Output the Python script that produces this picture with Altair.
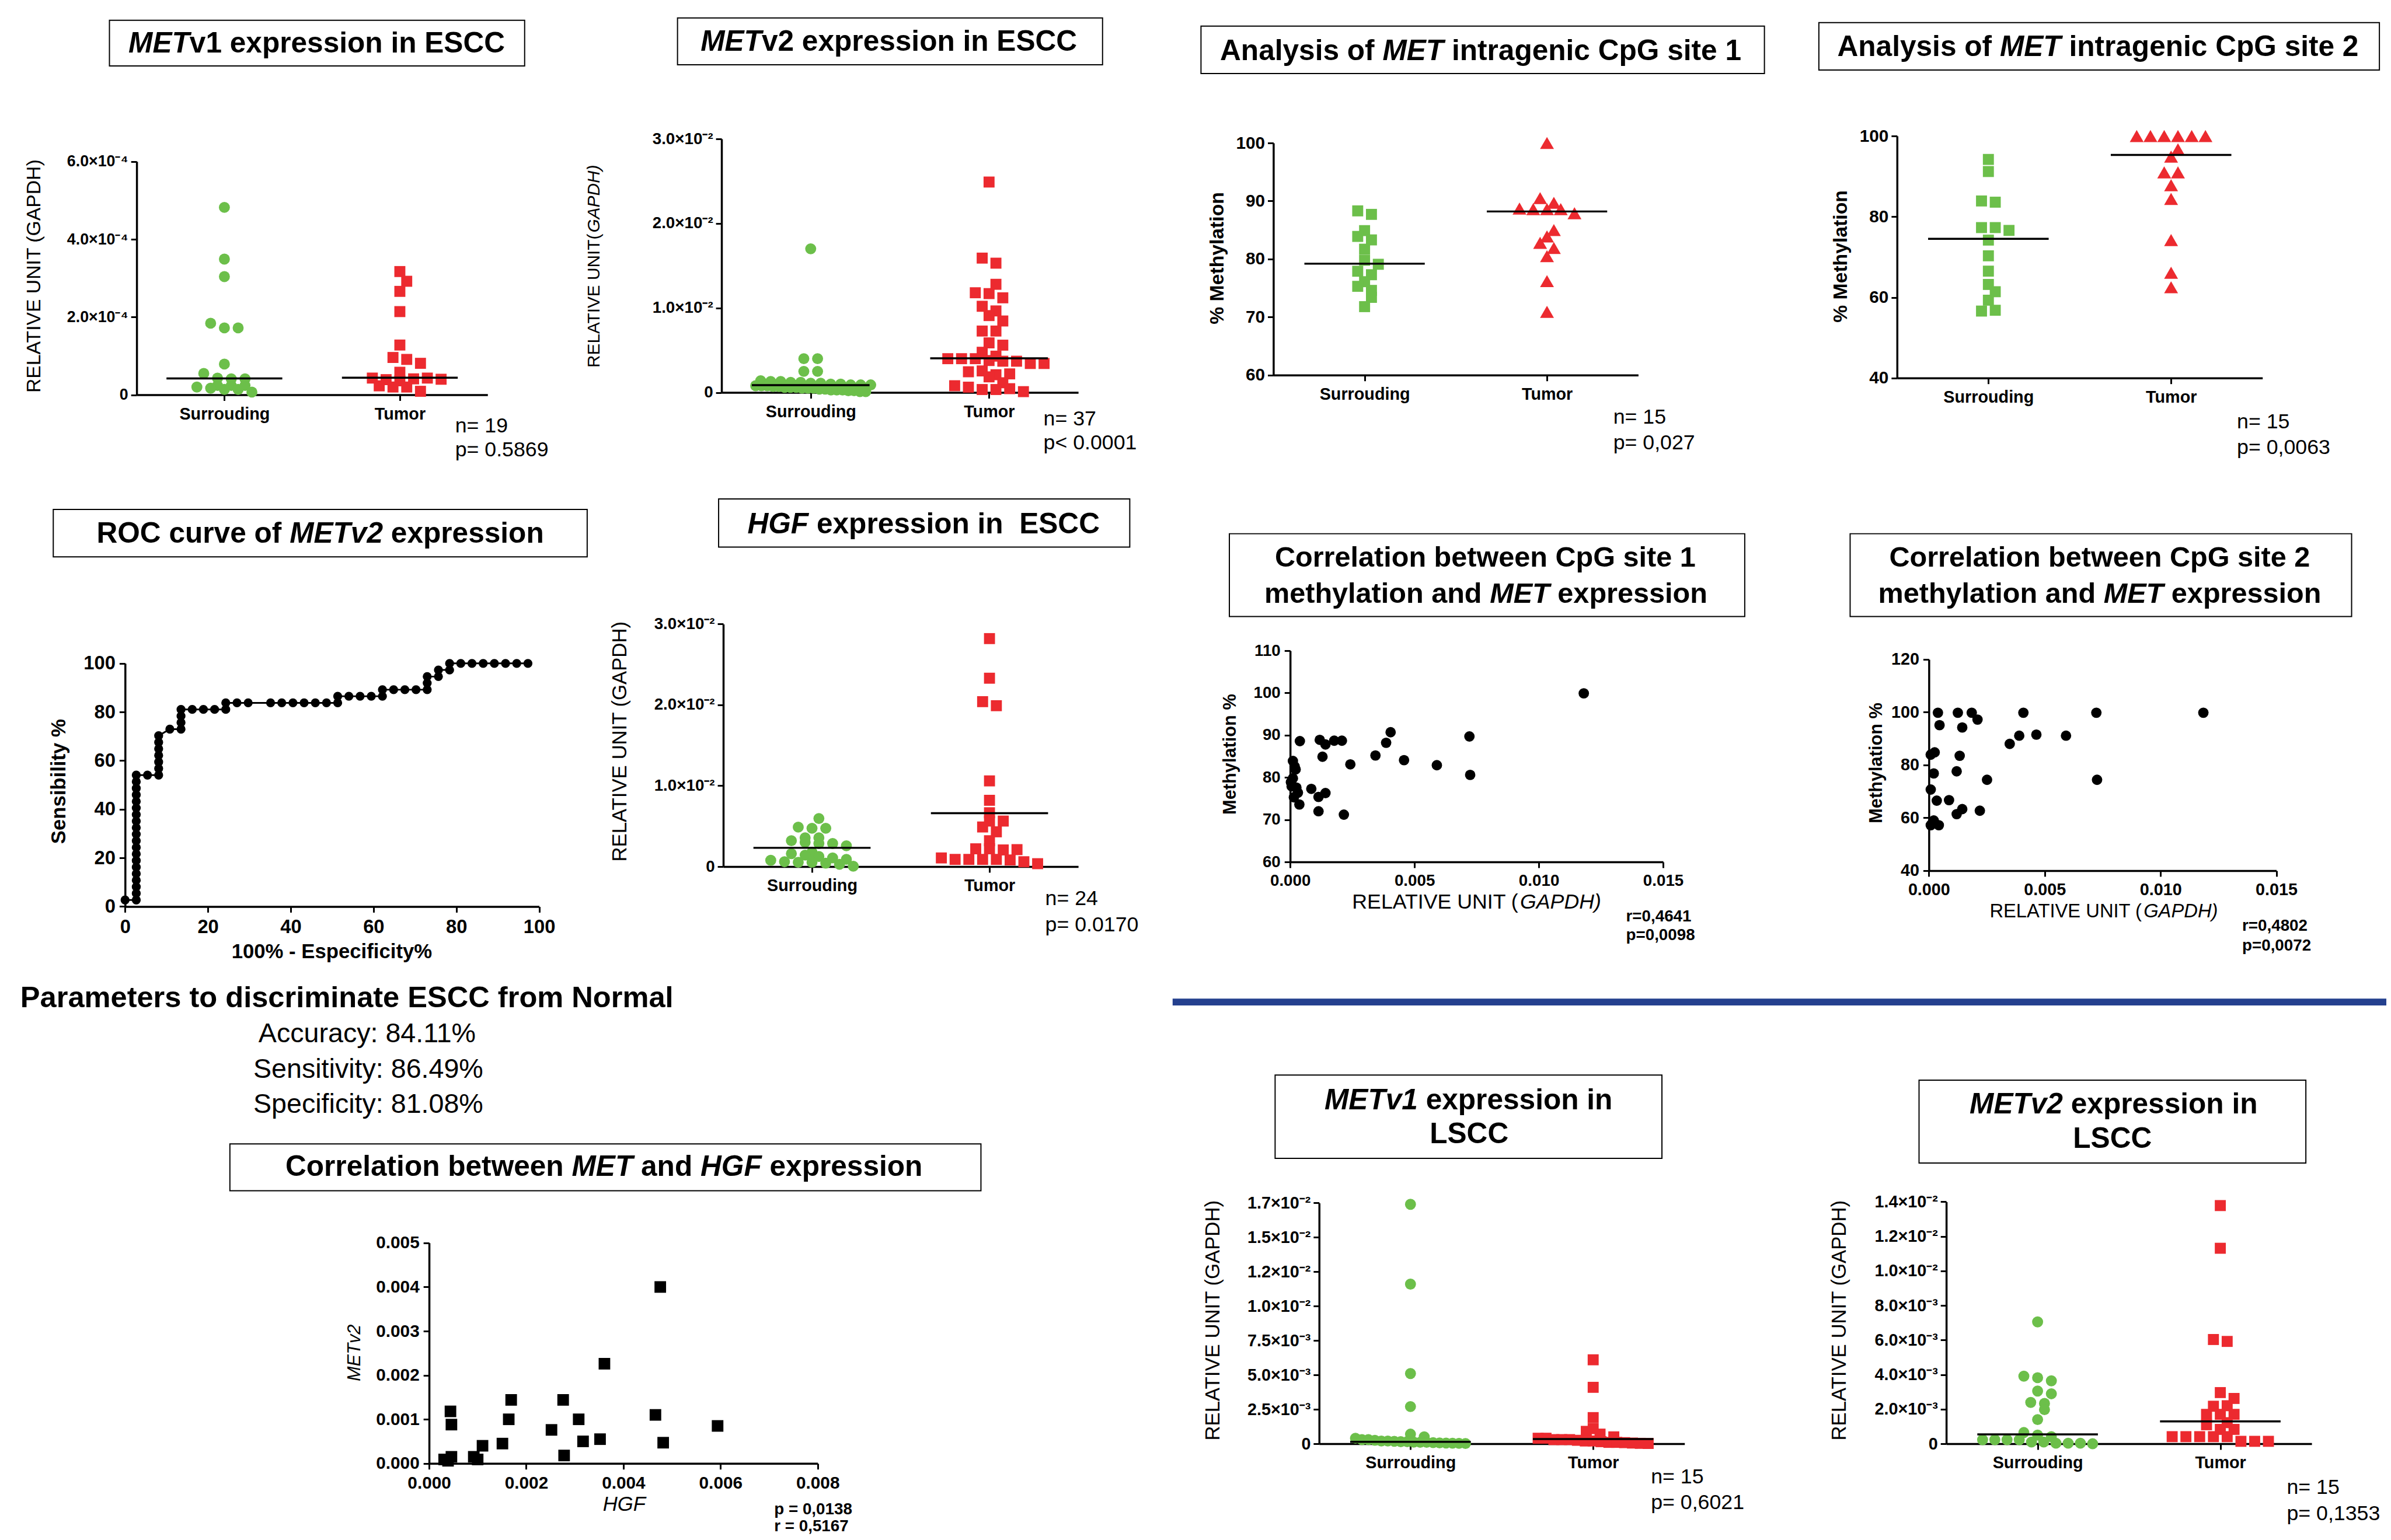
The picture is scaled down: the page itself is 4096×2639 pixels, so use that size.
import altair as alt
import pandas as pd

S = 0.992
W, H = 4080, 2623


def P(v):
    return v * S - 8


def L(v):
    return v * S


FONT = "Liberation Sans, Arial, Helvetica, sans-serif"
GREEN = "#6cbf4a"
RED = "#ec2a2f"
NAVY = "#24408e"

GROUP_LABELS = ["Surrouding", "Tumor"]

# ---------------- METv1 expression in ESCC ----------------
v1_sur = [4.82e-4, 3.49e-4, 3.04e-4, 1.84e-4, 1.72e-4, 1.72e-4, 0.79e-4, 0.55e-4, 0.43e-4, 0.41e-4,
          0.41e-4, 0.24e-4, 0.20e-4, 0.17e-4, 0.24e-4, 0.14e-4, 0.14e-4, 0.24e-4, 0.07e-4]
v1_tum = [3.17e-4, 2.92e-4, 2.66e-4, 2.14e-4, 1.28e-4, 0.96e-4, 0.91e-4, 0.81e-4, 0.58e-4, 0.43e-4,
          0.39e-4, 0.36e-4, 0.41e-4, 0.43e-4, 0.40e-4, 0.23e-4, 0.20e-4, 0.20e-4, 0.09e-4]
v1_lines = [0.42e-4, 0.44e-4]
v1_ticks = [0, 2e-4, 4e-4, 6e-4]
v1_labels = ["0", "2.0×10⁻⁴", "4.0×10⁻⁴", "6.0×10⁻⁴"]

# ---------------- METv2 expression in ESCC ----------------
v2_sur = [1.70e-2, 0.40e-2, 0.40e-2, 0.25e-2, 0.25e-2, 0.14e-2, 0.13e-2, 0.13e-2, 0.12e-2, 0.12e-2,
          0.11e-2, 0.11e-2, 0.10e-2, 0.10e-2, 0.09e-2, 0.09e-2, 0.09e-2, 0.08e-2, 0.08e-2, 0.08e-2,
          0.07e-2, 0.07e-2, 0.06e-2, 0.06e-2, 0.06e-2, 0.05e-2, 0.05e-2, 0.05e-2, 0.04e-2, 0.04e-2,
          0.03e-2, 0.03e-2, 0.03e-2, 0.02e-2, 0.02e-2, 0.01e-2, 0.01e-2]
v2_tum = [2.49e-2, 1.59e-2, 1.53e-2, 1.28e-2, 1.18e-2, 1.17e-2, 1.12e-2, 1.02e-2, 0.965e-2, 0.91e-2,
          0.846e-2, 0.727e-2, 0.727e-2, 0.587e-2, 0.56e-2, 0.476e-2, 0.43e-2, 0.40e-2, 0.40e-2, 0.40e-2,
          0.378e-2, 0.37e-2, 0.37e-2, 0.343e-2, 0.343e-2, 0.245e-2, 0.255e-2, 0.21e-2, 0.22e-2, 0.185e-2,
          0.115e-2, 0.08e-2, 0.063e-2, 0.035e-2, 0.035e-2, 0.045e-2, 0.01e-2]
v2_lines = [0.087e-2, 0.405e-2]
e2_ticks = [0, 0.01, 0.02, 0.03]
e2_labels = ["0", "1.0×10⁻²", "2.0×10⁻²", "3.0×10⁻²"]

# ---------------- CpG site 1 / site 2 methylation ----------------
cpg1_sur = [88.3, 87.7, 84.9, 83.9, 83.3, 81.7, 79.8, 79.1, 77.9, 77.3, 76.1, 75.3, 74.6, 73.4, 71.8]
cpg1_tum = [100, 90.5, 89.7, 88.7, 88.6, 88.6, 88.6, 87.9, 85.0, 83.9, 82.8, 81.9, 80.5, 76.2, 70.9]
cpg1_lines = [79.2, 88.2]
cpg1_ticks = [60, 70, 80, 90, 100]
cpg1_labels = ["60", "70", "80", "90", "100"]

cpg2_sur = [94.2, 91.2, 83.9, 83.6, 77.3, 77.3, 76.6, 74.2, 70.3, 66.5, 63.2, 61.4, 59.3, 56.6, 56.8]
cpg2_tum = [100, 100, 100, 100, 100, 100, 96.7, 94.9, 91.0, 91.0, 87.8, 84.4, 74.2, 66.1, 62.5]
cpg2_lines = [74.5, 95.3]
cpg2_ticks = [40, 60, 80, 100]
cpg2_labels = ["40", "60", "80", "100"]

# ---------------- HGF expression in ESCC ----------------
hgf_sur = [0.595e-2, 0.488e-2, 0.474e-2, 0.474e-2, 0.356e-2, 0.356e-2, 0.32e-2, 0.30e-2, 0.285e-2, 0.285e-2,
           0.257e-2, 0.178e-2, 0.16e-2, 0.142e-2, 0.125e-2, 0.107e-2, 0.089e-2, 0.078e-2, 0.06e-2, 0.053e-2,
           0.053e-2, 0.043e-2, 0.028e-2, 0.005e-2]
hgf_tum = [2.82e-2, 2.33e-2, 2.04e-2, 1.99e-2, 1.06e-2, 0.82e-2, 0.666e-2, 0.563e-2, 0.563e-2, 0.49e-2,
           0.43e-2, 0.32e-2, 0.22e-2, 0.22e-2, 0.206e-2, 0.21e-2, 0.107e-2, 0.089e-2, 0.089e-2, 0.089e-2,
           0.089e-2, 0.082e-2, 0.06e-2, 0.036e-2]
hgf_lines = [0.232e-2, 0.66e-2]

# ---------------- METv1 / METv2 in LSCC ----------------
l1_sur = [0.0174, 0.0116, 0.0051, 0.0027, 0.0007, 0.0005, 0.0004, 0.0003, 0.0003, 0.00025, 0.0002, 0.0002,
          0.00018, 0.00015, 0.00015, 0.00012, 0.0001, 0.0001, 0.00008, 0.00006, 0.00005, 0.00004, 0.00003, 0.00002]
l1_tum = [0.0061, 0.0041, 0.0019, 0.0011, 0.0009, 0.0007, 0.0005, 0.0004, 0.0004, 0.0003, 0.0003, 0.0003,
          0.00025, 0.0002, 0.0002, 0.00015, 0.0001, 0.0001, 0.00008, 0.00005, 0.00003, 0.00002]
l1_lines = [0.00014, 0.00034]
l1_ticks = [0, 0.0025, 0.005, 0.0075, 0.01, 0.0125, 0.015, 0.0175]
l1_labels = ["0", "2.5×10⁻³", "5.0×10⁻³", "7.5×10⁻³", "1.0×10⁻²", "1.2×10⁻²", "1.5×10⁻²", "1.7×10⁻²"]

l2_sur = [0.00705, 0.00391, 0.00382, 0.00364, 0.00305, 0.00289, 0.00239, 0.00233, 0.00197, 0.0014, 0.00065,
          0.0005, 0.00041, 0.00023, 0.00023, 0.00023, 0.00023, 0.0001, 0.0001, 0.00003, 0.00003, 0.00003, 0.0]
l2_tum = [0.01378, 0.01131, 0.00603, 0.00592, 0.00296, 0.00262, 0.00217, 0.0022, 0.0017, 0.0017, 0.0017,
          0.00122, 0.0011, 0.00083, 0.00083, 0.00041, 0.00041, 0.00041, 0.00041, 0.00041, 0.00014, 0.00014, 0.00014]
l2_lines = [0.00054, 0.00129]
l2_ticks = [0, 0.002, 0.004, 0.006, 0.008, 0.010, 0.012, 0.014]
l2_labels = ["0", "2.0×10⁻³", "4.0×10⁻³", "6.0×10⁻³", "8.0×10⁻³", "1.0×10⁻²", "1.2×10⁻²", "1.4×10⁻²"]

# ---------------- ROC curve ----------------
roc_fpr = ([0.00] + [2.70] * 20 + [5.41] + [8.11] * 7 + [10.81] + [13.51] * 4 + [16.22, 18.92, 21.62]
           + [24.32] * 2 + [27.03, 29.73, 35.14, 37.84, 40.54, 43.24, 45.95, 48.65] + [51.35] * 2
           + [54.05, 56.76, 59.46] + [62.16] * 2 + [64.86, 67.57, 70.27] + [72.97] * 3 + [75.68] * 2
           + [78.38] * 2 + [81.08, 83.78, 86.49, 89.19, 91.89, 94.59, 97.30])
roc_sens = [2.70,
            2.70, 5.41, 8.11, 10.81, 13.51, 16.22, 18.92, 21.62, 24.32, 27.03, 29.73, 32.43, 35.14, 37.84,
            40.54, 43.24, 45.95, 48.65, 51.35, 54.05,
            54.05,
            54.05, 56.76, 59.46, 62.16, 64.86, 67.57, 70.27,
            72.97,
            72.97, 75.68, 78.38, 81.08,
            81.08, 81.08, 81.08,
            81.08, 83.78,
            83.78, 83.78, 83.78, 83.78, 83.78, 83.78, 83.78, 83.78,
            83.78, 86.49,
            86.49, 86.49, 86.49,
            86.49, 89.19,
            89.19, 89.19, 89.19,
            89.19, 91.89, 94.59,
            94.59, 97.30,
            97.30, 100,
            100, 100, 100, 100, 100, 100, 100]
roc_ticks = [0, 20, 40, 60, 80, 100]

# ---------------- correlations ----------------
c1_x = [0.01181, 0.00404, 0.00721, 0.00039, 0.00119, 0.00142, 0.00177, 0.00208, 0.00386, 0.00343,
        0.0013, 0.00458, 0.00242, 0.0059, 0.00724, 0.00011, 0.00022, 0.00011, 0.00006, 0.00085,
        0.00031, 0.00142, 0.00114, 0.00015, 0.00037, 0.00114, 0.00216, 0.00003, 0.00018, 0.00025]
c1_y = [99.9, 90.7, 89.7, 88.6, 88.9, 87.8, 88.7, 88.7, 88.2, 85.2, 84.9, 84.1, 83.1, 82.9, 80.6,
        83.9, 81.9, 79.8, 77.9, 77.3, 76.4, 76.3, 75.4, 75.3, 73.6, 72.0, 71.2, 78.9, 82.6, 77.6]
c2_x = [0.00039, 0.00125, 0.00185, 0.00408, 0.00723, 0.01185, 0.0021, 0.00046, 0.00144, 0.0039,
        0.00464, 0.00592, 0.00349, 0.00025, 0.00008, 0.00133, 0.00021, 0.0012, 0.00251, 0.00726,
        0.00008, 0.00034, 0.00087, 0.00144, 0.0012, 0.0022, 0.00021, 0.00008, 0.00043, 0.00013]
c2_y = [99.8, 99.8, 99.8, 99.8, 99.8, 99.8, 97.2, 95.1, 94.2, 91.1, 91.5, 91.1, 88.0, 84.8, 83.9,
        83.5, 76.8, 77.6, 74.4, 74.4, 70.7, 66.5, 66.7, 63.3, 61.4, 62.7, 59.0, 57.2, 57.2, 57.7]
mh_hgf = [0.00476, 0.00361, 0.00169, 0.00276, 0.00044, 0.00046, 0.00164, 0.00308, 0.00466, 0.00594, 0.00252,
          0.00352, 0.00317, 0.00482, 0.00151, 0.00110, 0.00278, 0.00046, 0.00031, 0.00092, 0.00100, 0.00039]
mh_met = [0.00400, 0.00226, 0.00144, 0.00144, 0.00118, 0.00088, 0.00100, 0.00100, 0.00110, 0.00085, 0.00076,
          0.00055, 0.00050, 0.00047, 0.00045, 0.00040, 0.00018, 0.00015, 0.00009, 0.00015, 0.00009, 0.00006]

# ---------------- font metrics (Arial-compatible) for mixed-style text ----------------
BW = {' ': 278, '\u00a0': 278, '%': 889, '(': 333, ')': 333, ',': 278, '-': 333, '.': 278, ':': 333, '=': 584,
      'A': 722, 'B': 722, 'C': 722, 'D': 722, 'E': 667, 'F': 611, 'G': 778, 'H': 722, 'I': 278, 'J': 556,
      'K': 722, 'L': 611, 'M': 833, 'N': 722, 'O': 778, 'P': 667, 'Q': 778, 'R': 722, 'S': 667, 'T': 611,
      'U': 722, 'V': 667, 'W': 944, 'X': 667, 'Y': 667, 'Z': 611,
      'a': 556, 'b': 611, 'c': 556, 'd': 611, 'e': 556, 'f': 333, 'g': 611, 'h': 611, 'i': 278, 'j': 278,
      'k': 556, 'l': 278, 'm': 889, 'n': 611, 'o': 611, 'p': 611, 'q': 611, 'r': 389, 's': 556, 't': 333,
      'u': 611, 'v': 556, 'w': 778, 'x': 556, 'y': 556, 'z': 500}
RW = {' ': 278, '\u00a0': 278, '%': 889, '(': 333, ')': 333, ',': 278, '-': 333, '.': 278, ':': 278, '=': 584,
      'A': 667, 'B': 667, 'C': 722, 'D': 722, 'E': 667, 'F': 611, 'G': 778, 'H': 722, 'I': 278, 'J': 500,
      'K': 667, 'L': 556, 'M': 833, 'N': 722, 'O': 778, 'P': 667, 'Q': 778, 'R': 722, 'S': 667, 'T': 611,
      'U': 722, 'V': 667, 'W': 944, 'X': 667, 'Y': 667, 'Z': 611,
      'a': 556, 'b': 556, 'c': 500, 'd': 556, 'e': 556, 'f': 278, 'g': 556, 'h': 556, 'i': 222, 'j': 222,
      'k': 500, 'l': 222, 'm': 833, 'n': 556, 'o': 556, 'p': 556, 'q': 556, 'r': 333, 's': 500, 't': 278,
      'u': 556, 'v': 500, 'w': 722, 'x': 500, 'y': 500, 'z': 500}


def tw(s, size, bold):
    t = BW if bold else RW
    return sum(t.get(c, 556) for c in s) * size / 1000.0


texts = []


def add_text(x, y, s, size, bold=False, italic=False, angle=0, align="left", baseline="alphabetic"):
    texts.append(dict(x=P(x), y=P(y), text=s, size=L(size), weight="bold" if bold else "normal",
                      style="italic" if italic else "normal", angle=angle, align=align, baseline=baseline))


def add_rich(cx, y, segs, size, bold=True):
    total = sum(tw(s, size, bold) for s, _ in segs)
    x = cx - total / 2.0
    for s, it in segs:
        lead = len(s) - len(s.lstrip(" "))
        core = s.strip(" ")
        add_text(x + tw(" " * lead, size, bold), y, core, size, bold=bold, italic=bool(it), align="left")
        x += tw(s, size, bold)


boxes = []


def add_box(x1, y1, x2, y2):
    boxes.append(dict(x=P(x1), x2=P(x2), y=P(y1), y2=P(y2)))


def axis(orient, offset, values, expr, size, pad, tick=10):
    return alt.Axis(orient=orient, offset=offset, values=values, labelExpr=expr, title=None, grid=False,
                    domainColor="black", domainWidth=L(3.5), tickColor="black", tickWidth=L(3),
                    tickSize=L(tick), labelColor="black", labelFont=FONT, labelFontWeight="bold",
                    labelFontSize=L(size), labelPadding=L(pad), labelOverlap=False, labelFlush=False)


def lab_expr(labels, base, step):
    arr = ",".join("'" + s + "'" for s in labels)
    return "[" + arr + "][round((datum.value - (" + repr(base) + ")) / " + repr(step) + ")]"


def swarm(vals, center, ydom, ybot, ytop, unit_px, diam=19.0):
    span = ybot - ytop
    ypx = [(v - ydom[0]) / (ydom[1] - ydom[0]) * span for v in vals]
    order = sorted(range(len(vals)), key=lambda i: (ypx[i], i))
    rows, cur = [], [order[0]]
    for i in order[1:]:
        if ypx[i] - ypx[cur[0]] < 0.55 * diam:
            cur.append(i)
        else:
            rows.append(cur)
            cur = [i]
    rows.append(cur)
    slot = 1.25 * diam
    maxw = 8 * slot
    xs = [0.0] * len(vals)
    prev = None
    for r in rows:
        r = sorted(r)
        n = len(r)
        st = slot if n < 2 or (n - 1) * slot <= maxw else maxw / (n - 1)
        shift = 0.0
        if prev is not None:
            pn, ptop, pshift = prev
            if min(ypx[i] for i in r) - ptop < 0.95 * diam and (pn % 2) == (n % 2) and pshift == 0:
                shift = st / 2.0
        for k, i in enumerate(r):
            xs[i] = center + ((k - (n - 1) / 2.0) * st + shift) / unit_px
        prev = (n, max(ypx[i] for i in r), shift)
    return xs


SYM = {"circle": 19, "square": 19, "triangle-up": 24}


def dot_panel(g):
    xs = alt.Scale(domain=[0.5, 2.5], range=[P(g["yx"]), P(g["xend"])], nice=False, zero=False)
    ys = alt.Scale(domain=g["ydom"], range=[P(g["ybot"]), P(g["ytop"])], nice=False, zero=False)
    unit = (g["xend"] - g["yx"]) / 2.0
    d1 = pd.DataFrame({"xv": swarm(g["sur"], 1, g["ydom"], g["ybot"], g["ytop"], unit), "val": g["sur"]})
    d2 = pd.DataFrame({"xv": swarm(g["tum"], 2, g["ydom"], g["ybot"], g["ytop"], unit), "val": g["tum"]})
    step = g["ticks"][1] - g["ticks"][0]
    xax = axis("bottom", P(g["ybot"]) - H, [1, 2],
               "datum.value < 1.5 ? '" + GROUP_LABELS[0] + "' : '" + GROUP_LABELS[1] + "'", 29, 9)
    yax = axis("left", -P(g["yx"]), g["ticks"], lab_expr(g["labels"], g["ticks"][0], step), g["tf"], 5)
    s1, s2 = g["shp"]
    p1 = alt.Chart(d1).mark_point(filled=True, shape=s1, size=L(SYM[s1]) ** 2, opacity=1, color=GREEN,
                                  strokeWidth=0).encode(
        x=alt.X("xv:Q", scale=xs, axis=xax), y=alt.Y("val:Q", scale=ys, axis=yax))
    p2 = alt.Chart(d2).mark_point(filled=True, shape=s2, size=L(SYM[s2]) ** 2, opacity=1, color=RED,
                                  strokeWidth=0).encode(
        x=alt.X("xv:Q", scale=xs, axis=xax), y=alt.Y("val:Q", scale=ys, axis=yax))
    dl = pd.DataFrame({"a": [0.67, 1.67], "b": [1.33, 2.33], "val": g["lines"]})
    med = alt.Chart(dl).mark_rule(color="black", strokeWidth=L(3.5)).encode(
        x=alt.X("a:Q", scale=xs, axis=xax), x2="b:Q", y=alt.Y("val:Q", scale=ys, axis=yax))
    return alt.layer(p1, p2, med)


def xy_panel(df, xc, yc, g, shape, diam, line=False):
    xs = alt.Scale(domain=g["xdom"], range=[P(g["x0"]), P(g["x1"])], nice=False, zero=False)
    ys = alt.Scale(domain=g["ydom"], range=[P(g["ybot"]), P(g["ytop"])], nice=False, zero=False)
    xax = axis("bottom", P(g["ybot"]) - H, g["xt"], "format(datum.value, '" + g["xf"] + "')", g["tf"], 9)
    yax = axis("left", -P(g["x0"]), g["yt"], "format(datum.value, '" + g["yf"] + "')", g["tf"], 7)
    pts = alt.Chart(df).mark_point(filled=True, shape=shape, size=L(diam) ** 2, opacity=1, color="black",
                                   strokeWidth=0).encode(
        x=alt.X(xc + ":Q", scale=xs, axis=xax), y=alt.Y(yc + ":Q", scale=ys, axis=yax))
    if not line:
        return pts
    ln = alt.Chart(df).mark_line(color="black", strokeWidth=L(3)).encode(
        x=alt.X(xc + ":Q", scale=xs, axis=xax), y=alt.Y(yc + ":Q", scale=ys, axis=yax), order="i:Q")
    return alt.layer(ln, pts)


# ---------------- panels ----------------
dot_specs = [
    dict(yx=236, ybot=682, ytop=279, xend=842, ydom=[0, 6e-4], ticks=v1_ticks, labels=v1_labels, tf=27,
         sur=v1_sur, tum=v1_tum, lines=v1_lines, shp=("circle", "square")),
    dict(yx=1246, ybot=678, ytop=240, xend=1862, ydom=[0, 0.03], ticks=e2_ticks, labels=e2_labels, tf=28,
         sur=v2_sur, tum=v2_tum, lines=v2_lines, shp=("circle", "square")),
    dict(yx=2199, ybot=648, ytop=247, xend=2829, ydom=[60, 100], ticks=cpg1_ticks, labels=cpg1_labels, tf=30,
         sur=cpg1_sur, tum=cpg1_tum, lines=cpg1_lines, shp=("square", "triangle-up")),
    dict(yx=3276, ybot=653, ytop=235, xend=3907, ydom=[40, 100], ticks=cpg2_ticks, labels=cpg2_labels, tf=30,
         sur=cpg2_sur, tum=cpg2_tum, lines=cpg2_lines, shp=("square", "triangle-up")),
    dict(yx=1249, ybot=1497, ytop=1078, xend=1862, ydom=[0, 0.03], ticks=e2_ticks, labels=e2_labels, tf=28,
         sur=hgf_sur, tum=hgf_tum, lines=hgf_lines, shp=("circle", "square")),
    dict(yx=2278, ybot=2494, ytop=2078, xend=2909, ydom=[0, 0.0175], ticks=l1_ticks, labels=l1_labels, tf=29,
         sur=l1_sur, tum=l1_tum, lines=l1_lines, shp=("circle", "square")),
    dict(yx=3361, ybot=2494, ytop=2076, xend=3992, ydom=[0, 0.014], ticks=l2_ticks, labels=l2_labels, tf=29,
         sur=l2_sur, tum=l2_tum, lines=l2_lines, shp=("circle", "square")),
]

panels = [dot_panel(g) for g in dot_specs]

roc_df = pd.DataFrame({"fpr": roc_fpr, "sens": roc_sens, "i": list(range(len(roc_fpr)))})
panels.append(xy_panel(roc_df, "fpr", "sens",
                       dict(x0=216, x1=931, ybot=1566, ytop=1146, xdom=[0, 100], ydom=[0, 100],
                            xt=roc_ticks, yt=roc_ticks, xf="d", yf="d", tf=33), "circle", 15.5, line=True))
panels.append(xy_panel(pd.DataFrame({"u": c1_x, "m": c1_y}), "u", "m",
                       dict(x0=2228, x1=2872, ybot=1489, ytop=1124, xdom=[0, 0.015], ydom=[60, 110],
                            xt=[0, 0.005, 0.01, 0.015], yt=[60, 70, 80, 90, 100, 110], xf=".3f", yf="d",
                            tf=28), "circle", 18))
panels.append(xy_panel(pd.DataFrame({"u": c2_x, "m": c2_y}), "u", "m",
                       dict(x0=3331, x1=3931, ybot=1504, ytop=1139, xdom=[0, 0.015], ydom=[40, 120],
                            xt=[0, 0.005, 0.01, 0.015], yt=[40, 60, 80, 100, 120], xf=".3f", yf="d",
                            tf=29), "circle", 18))
panels.append(xy_panel(pd.DataFrame({"h": mh_hgf, "v": mh_met}), "h", "v",
                       dict(x0=741, x1=1412, ybot=2528, ytop=2147, xdom=[0, 0.008], ydom=[0, 0.005],
                            xt=[0, 0.002, 0.004, 0.006, 0.008],
                            yt=[0, 0.001, 0.002, 0.003, 0.004, 0.005], xf=".3f", yf=".3f", tf=30),
                       "square", 20))

# ---------------- titles in boxes ----------------
add_box(189, 35, 906, 114)
add_rich(547, 91, [("MET", 1), ("v1 expression in ESCC", 0)], 50)
add_box(1170, 31, 1904, 112)
add_rich(1535, 88, [("MET", 1), ("v2 expression in ESCC", 0)], 50)
add_box(2074, 45, 3047, 127)
add_rich(2557, 104, [("Analysis of ", 0), ("MET", 1), (" intragenic CpG site 1", 0)], 50)
add_box(3141, 39, 4109, 121)
add_rich(3623, 97, [("Analysis of ", 0), ("MET", 1), (" intragenic CpG site 2", 0)], 50)
add_box(92, 880, 1014, 962)
add_rich(553, 937, [("ROC curve of ", 0), ("METv2", 1), (" expression", 0)], 50)
add_box(1241, 862, 1951, 945)
add_rich(1595, 921, [("HGF", 1), (" expression in\u00a0 ESCC", 0)], 50)
add_box(2123, 922, 3013, 1065)
add_rich(2565, 979, [("Correlation between CpG site 1", 0)], 49)
add_rich(2566, 1041, [("methylation and ", 0), ("MET", 1), (" expression", 0)], 49)
add_box(3195, 922, 4061, 1065)
add_rich(3626, 979, [("Correlation between CpG site 2", 0)], 49)
add_rich(3626, 1041, [("methylation and ", 0), ("MET", 1), (" expression", 0)], 49)
add_box(397, 1976, 1694, 2057)
add_rich(1043, 2031, [("Correlation between ", 0), ("MET", 1), (" and ", 0), ("HGF", 1), (" expression", 0)], 50)
add_box(2202, 1857, 2870, 2001)
add_rich(2536, 1916, [("METv1", 1), (" expression in", 0)], 50)
add_rich(2537, 1975, [("LSCC", 0)], 50)
add_box(3314, 1866, 3982, 2009)
add_rich(3650, 1923, [("METv2", 1), (" expression in", 0)], 50)
add_rich(3648, 1983, [("LSCC", 0)], 50)

# ---------------- axis titles and statistics ----------------
add_text(59, 477, "RELATIVE UNIT (GAPDH)", 34, angle=270, align="center", baseline="middle")
add_text(786, 747, "n= 19", 36)
add_text(786, 788, "p= 0.5869", 36)

add_text(1026, 635, "RELATIVE UNIT(", 30, angle=270, align="left", baseline="middle")
add_text(1026, 635 - tw("RELATIVE UNIT(", 30, False), "GAPDH)", 30, italic=True, angle=270, align="left",
         baseline="middle")
add_text(1802, 735, "n= 37", 36)
add_text(1802, 776, "p< 0.0001", 36)

add_text(2103, 446, "% Methylation", 34, bold=True, angle=270, align="center", baseline="middle")
add_text(2786, 732, "n= 15", 36)
add_text(2786, 776, "p= 0,027", 36)

add_text(3179, 443, "% Methylation", 34, bold=True, angle=270, align="center", baseline="middle")
add_text(3863, 740, "n= 15", 36)
add_text(3863, 784, "p= 0,0063", 36)

add_text(103, 1350, "Sensibility %", 35, bold=True, angle=270, align="center", baseline="middle")
add_text(573, 1655, "100% - Especificity%", 35, bold=True, align="center")

add_text(1072, 1281, "RELATIVE UNIT (GAPDH)", 35, angle=270, align="center", baseline="middle")
add_text(1805, 1564, "n= 24", 36)
add_text(1805, 1609, "p= 0.0170", 36)

add_text(2125, 1303, "Methylation %", 31, bold=True, angle=270, align="center", baseline="middle")
add_rich(2550, 1570, [("RELATIVE UNIT (", 0), ("GAPDH)", 1)], 36, bold=False)
add_text(2808, 1592, "r=0,4641", 28, bold=True)
add_text(2808, 1624, "p=0,0098", 28, bold=True)

add_text(3241, 1318, "Methylation %", 31, bold=True, angle=270, align="center", baseline="middle")
add_rich(3633, 1585, [("RELATIVE UNIT (", 0), ("GAPDH)", 1)], 33, bold=False)
add_text(3872, 1608, "r=0,4802", 28, bold=True)
add_text(3872, 1642, "p=0,0072", 28, bold=True)

add_text(599, 1740, "Parameters to discriminate ESCC from Normal", 51, bold=True, align="center")
add_text(634, 1800, "Accuracy: 84.11%", 47, align="center")
add_text(636, 1862, "Sensitivity: 86.49%", 47, align="center")
add_text(636, 1922, "Specificity: 81.08%", 47, align="center")

add_text(613, 2337, "METv2", 31, italic=True, angle=270, align="center", baseline="middle")
add_text(1078, 2610, "HGF", 35, italic=True, align="center")
add_text(1337, 2616, "p = 0,0138", 28, bold=True)
add_text(1337, 2645, "r = 0,5167", 28, bold=True)

add_text(2096, 2281, "RELATIVE UNIT (GAPDH)", 35, angle=270, align="center", baseline="middle")
add_text(2851, 2562, "n= 15", 36)
add_text(2851, 2607, "p= 0,6021", 36)

add_text(3177, 2281, "RELATIVE UNIT (GAPDH)", 35, angle=270, align="center", baseline="middle")
add_text(3949, 2581, "n= 15", 36)
add_text(3949, 2626, "p= 0,1353", 36)

# ---------------- assemble ----------------
layers = []
box_df = pd.DataFrame(boxes)
layers.append(alt.Chart(box_df).mark_rect(fill="white", fillOpacity=0, stroke="black", strokeWidth=L(2)).encode(
    x=alt.X("x:Q", scale=None, axis=None), x2="x2:Q", y=alt.Y("y:Q", scale=None, axis=None), y2="y2:Q"))

sep_df = pd.DataFrame({"x": [P(2025)], "x2": [P(4140)], "y": [P(1731)]})
layers.append(alt.Chart(sep_df).mark_rule(color=NAVY, strokeWidth=L(12)).encode(
    x=alt.X("x:Q", scale=None, axis=None), x2="x2:Q", y=alt.Y("y:Q", scale=None, axis=None)))

layers.extend(panels)

tdf = pd.DataFrame(texts)
for key, grp in tdf.groupby(["size", "weight", "style", "angle", "align", "baseline"], sort=False):
    size, weight, style, angle, align, baseline = key
    layers.append(alt.Chart(grp.reset_index(drop=True)).mark_text(
        font=FONT, fontSize=float(size), fontWeight=weight, fontStyle=style, angle=int(angle), align=align,
        baseline=baseline, color="black").encode(
        x=alt.X("x:Q", scale=None, axis=None), y=alt.Y("y:Q", scale=None, axis=None), text="text:N"))

chart = alt.layer(*layers).resolve_scale(x="independent", y="independent").resolve_axis(
    x="independent", y="independent").properties(
    width=W, height=H, autosize=alt.AutoSizeParams(type="none"), padding=0).configure_view(strokeWidth=0)

chart.save("out.html", embed_options={"renderer": "svg", "actions": False})
